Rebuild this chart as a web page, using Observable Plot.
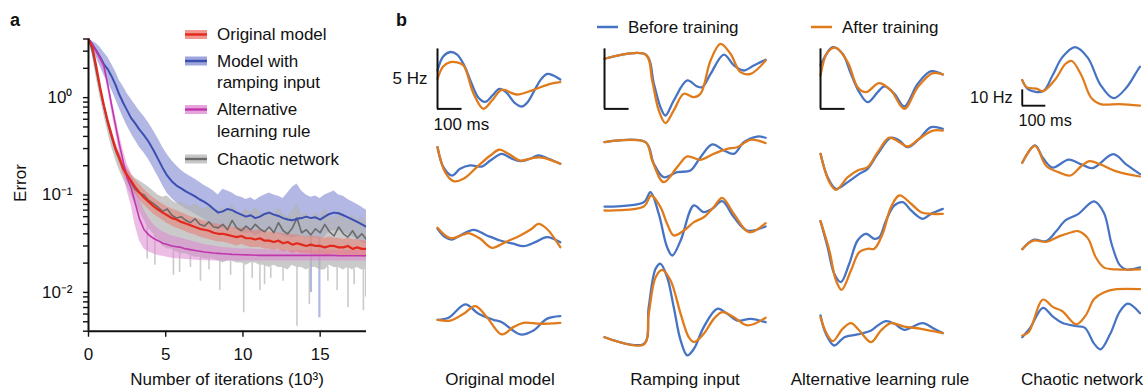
<!DOCTYPE html>
<html>
<head>
<meta charset="utf-8">
<script src="https://cdn.jsdelivr.net/npm/d3@7"></script>
<script src="https://cdn.jsdelivr.net/npm/@observablehq/plot@0.6"></script>
<style>
  body { margin: 0; background: #fff; }
  #fig { position: relative; width: 1145px; height: 392px; overflow: hidden; background: #fff;
         font-family: "Liberation Sans", Arial, Helvetica, sans-serif; }
  .cell { position: absolute; }
  #overlay { position: absolute; left: 0; top: 0; pointer-events: none; }
</style>
</head>
<body>
<div id="fig"></div>
<script>
// ---------- Panel a: training error (log scale) ----------
const iters = [0,0.25,0.5,0.75,1,1.25,1.5,1.75,2,2.25,2.5,2.75,
  3,3.3,3.6,3.9,4.2,4.5,4.8,5.1,5.4,5.7,6,6.3,6.6,6.9,7.2,7.5,7.8,8.1,8.4,8.7,9,9.3,9.6,9.9,
  10.2,10.5,10.8,11.1,11.4,11.7,12,12.3,12.6,12.9,13.2,13.5,13.8,14.1,14.4,14.7,15,15.3,15.6,15.9,
  16.2,16.5,16.8,17.1,17.4,17.7,18];

// Original model (mean, lower, upper)
const originalErr = [4.0,3.3,2.1,1.28,0.83,0.57,0.41,0.3,0.24,0.185,0.16,0.14,
  0.122,0.106,0.094,0.085,0.077,0.071,0.066,0.062,0.058,0.056,0.053,0.051,0.049,0.047,0.045,0.044,0.043,0.041,0.040,0.040,
  0.039,0.038,0.037,0.038,0.036,0.036,0.035,0.036,0.034,0.034,0.033,0.034,0.032,0.033,0.031,0.032,0.031,0.030,0.031,0.030,
  0.030,0.029,0.030,0.030,0.029,0.029,0.030,0.028,0.029,0.028,0.028];
const originalLo = [4.0,3.1,1.9,1.17,0.75,0.51,0.37,0.27,0.215,0.165,0.14,0.122,
  0.104,0.09,0.079,0.071,0.064,0.059,0.055,0.051,0.048,0.046,0.044,0.042,0.040,0.039,0.037,0.036,0.035,0.034,0.033,0.033,
  0.032,0.031,0.030,0.031,0.030,0.029,0.029,0.029,0.028,0.028,0.027,0.028,0.026,0.027,0.025,0.026,0.025,0.025,0.025,0.024,
  0.025,0.024,0.024,0.025,0.024,0.024,0.024,0.023,0.024,0.023,0.023];
const originalHi = [4.0,3.5,2.3,1.42,0.93,0.64,0.47,0.35,0.275,0.215,0.185,0.162,
  0.145,0.128,0.114,0.103,0.094,0.087,0.081,0.076,0.072,0.069,0.066,0.063,0.060,0.058,0.056,0.054,0.053,0.051,0.050,0.049,
  0.048,0.047,0.046,0.046,0.045,0.044,0.043,0.044,0.042,0.042,0.041,0.041,0.040,0.040,0.039,0.039,0.038,0.037,0.038,0.037,
  0.037,0.036,0.037,0.036,0.036,0.035,0.036,0.035,0.035,0.034,0.034];

// Model with ramping input
const rampErr = [4.0,3.5,3.05,2.6,2.2,1.95,1.65,1.35,1.07,0.88,0.74,0.62,
  0.55,0.47,0.41,0.35,0.29,0.235,0.19,0.158,0.138,0.125,0.117,0.109,0.103,0.097,0.09,0.085,0.079,0.072,0.066,0.068,
  0.072,0.07,0.066,0.063,0.06,0.062,0.058,0.06,0.064,0.066,0.063,0.061,0.058,0.056,0.055,0.057,0.058,0.06,0.058,0.059,
  0.056,0.06,0.064,0.066,0.065,0.062,0.059,0.056,0.053,0.05,0.047];
const rampLo = [4.0,3.2,2.6,2.1,1.7,1.45,1.2,0.97,0.77,0.62,0.51,0.43,
  0.37,0.31,0.27,0.23,0.19,0.155,0.125,0.104,0.092,0.083,0.077,0.072,0.068,0.064,0.06,0.056,0.052,0.048,0.045,0.046,
  0.048,0.047,0.044,0.042,0.04,0.041,0.038,0.04,0.042,0.044,0.042,0.04,0.038,0.037,0.036,0.037,0.038,0.036,0.037,0.036,
  0.036,0.037,0.042,0.043,0.043,0.041,0.039,0.037,0.035,0.033,0.031];
const rampHi = [4.0,3.8,3.6,3.3,2.9,2.6,2.2,1.85,1.5,1.3,1.1,0.97,
  0.85,0.73,0.64,0.55,0.46,0.38,0.31,0.26,0.225,0.2,0.18,0.165,0.155,0.145,0.135,0.125,0.118,0.11,0.1,0.115,
  0.11,0.105,0.098,0.095,0.09,0.094,0.088,0.095,0.1,0.105,0.1,0.097,0.092,0.105,0.12,0.13,0.11,0.1,0.095,0.098,
  0.092,0.1,0.105,0.11,0.1,0.097,0.09,0.085,0.08,0.075,0.07];
// narrow downward excursions of the lower envelope: [iterations, error]
const rampDips = [[14.4,0.01],[14.95,0.0055]];

// Alternative learning rule
const altErr = [4.0,3.5,3.0,2.55,2.1,1.35,0.83,0.52,0.33,0.22,0.15,0.12,
  0.085,0.057,0.044,0.039,0.036,0.034,0.032,0.031,0.030,0.0295,0.029,0.028,0.0275,0.027,0.0265,0.026,0.0257,0.0254,0.0252,0.025,
  0.0248,0.0246,0.0245,0.0244,0.0243,0.0242,0.0241,0.024,0.024,0.024,0.024,0.024,0.024,0.024,0.024,0.024,0.024,0.024,0.024,0.024,
  0.024,0.024,0.024,0.024,0.0238,0.0238,0.0238,0.0238,0.0238,0.0238,0.0238];
const altLo = [4.0,3.3,2.8,2.3,1.85,1.2,0.72,0.44,0.27,0.17,0.11,0.08,
  0.05,0.034,0.028,0.026,0.025,0.024,0.0235,0.023,0.0225,0.0222,0.022,0.0218,0.0216,0.0214,0.0213,0.0212,0.0211,0.021,0.021,0.021,
  0.021,0.021,0.021,0.021,0.021,0.021,0.021,0.021,0.021,0.021,0.021,0.021,0.021,0.021,0.021,0.021,0.021,0.021,0.021,0.021,
  0.021,0.021,0.021,0.021,0.021,0.021,0.021,0.021,0.021,0.021,0.021];
const altHi = [4.0,3.7,3.2,2.8,2.35,1.55,1.0,0.64,0.42,0.29,0.21,0.17,
  0.13,0.095,0.07,0.058,0.05,0.045,0.042,0.04,0.038,0.037,0.036,0.035,0.034,0.033,0.032,0.031,0.0305,0.030,0.0295,0.029,
  0.0288,0.0285,0.0283,0.028,0.028,0.028,0.0278,0.0276,0.0275,0.0274,0.0273,0.0272,0.0271,0.027,0.027,0.027,0.027,0.027,0.027,0.027,
  0.027,0.027,0.027,0.027,0.027,0.027,0.027,0.027,0.027,0.027,0.027];

// Chaotic network
const chaoticErr = [4.0,3.0,1.9,1.2,0.8,0.54,0.39,0.29,0.23,0.19,0.16,0.135,
  0.115,0.105,0.1,0.088,0.082,0.075,0.068,0.072,0.062,0.058,0.06,0.055,0.052,0.057,0.05,0.048,0.053,0.047,0.046,0.05,
  0.044,0.055,0.046,0.043,0.048,0.044,0.05,0.045,0.042,0.047,0.041,0.052,0.043,0.04,0.046,0.058,0.041,0.044,0.039,0.045,
  0.041,0.05,0.042,0.038,0.047,0.04,0.037,0.043,0.036,0.04,0.035];
const chaoticLo = [4.0,2.7,1.6,1.0,0.66,0.44,0.31,0.23,0.18,0.145,0.12,0.1,
  0.082,0.068,0.055,0.045,0.04,0.035,0.03,0.028,0.028,0.026,0.025,0.025,0.024,0.023,0.023,0.022,0.022,0.022,0.021,0.02,
  0.021,0.021,0.02,0.02,0.019,0.02,0.02,0.019,0.019,0.018,0.019,0.018,0.018,0.017,0.019,0.018,0.018,0.017,0.018,0.018,
  0.017,0.017,0.019,0.018,0.018,0.017,0.018,0.017,0.018,0.017,0.017];
const chaoticHi = [4.0,3.3,2.1,1.35,0.88,0.6,0.44,0.33,0.27,0.22,0.19,0.165,
  0.15,0.14,0.13,0.12,0.11,0.1,0.095,0.098,0.088,0.082,0.085,0.08,0.076,0.082,0.075,0.072,0.078,0.07,0.068,0.075,
  0.066,0.08,0.068,0.064,0.072,0.066,0.074,0.067,0.063,0.07,0.062,0.076,0.064,0.06,0.068,0.082,0.061,0.065,0.058,0.066,
  0.061,0.072,0.062,0.057,0.069,0.059,0.055,0.063,0.054,0.059,0.052];
const chaoticDips = [[3.8,0.022],[4.3,0.019],[5.5,0.015],[5.9,0.016],[6.6,0.018],[7.25,0.013],[7.8,0.017],
  [8.5,0.0105],[9.2,0.015],[10.05,0.0062],[10.6,0.014],[11.1,0.0105],[11.4,0.012],[11.8,0.014],[12.6,0.013],
  [13.5,0.0045],[14.3,0.0075],[15.5,0.013],[16.1,0.0105],[16.8,0.007],[17.2,0.012],[17.8,0.0065],[17.95,0.009]];

const errorTicks = [0.004,0.005,0.006,0.007,0.008,0.009,0.01,0.02,0.03,0.04,0.05,0.06,0.07,0.08,0.09,
  0.1,0.2,0.3,0.4,0.5,0.6,0.7,0.8,0.9,1,2,3,4];
const errorTickLabels = {0.01: "10\u207B\u00B2", 0.1: "10\u207B\u00B9", 1: "10\u2070"};
const iterTicks = [0, 5, 10, 15];

const seriesNames = ["Original model", "Model with\nramping input", "Alternative\nlearning rule", "Chaotic network"];

// ---------- Panel b: example rates, [time (ms), rate (Hz)] ----------
const originalBefore = [
  [[0,5.0],[23,6.17],[52,6.54],[80,6.33],[109,5.42],[137,4.0],[166,2.75],[194,2.38],[224,2.92],[252,3.46],[280,3.17],[313,2.33],[344,2.0],[369,2.42],[399,3.5],[424,4.33],[447,4.71],[472,4.58],[500,4.25]],
  [[0,4.44],[24,2.78],[59,2.08],[92,2.64],[133,2.92],[181,2.83],[215,3.33],[262,3.89],[303,3.48],[337,3.28],[377,3.48],[411,3.75],[452,3.48],[500,3.06]],
  [[0,5.98],[31,5.28],[59,5.08],[92,5.42],[147,5.89],[201,5.42],[255,5.0],[309,4.73],[350,4.53],[398,4.86],[445,5.28],[500,4.86]],
  [[0,3.39],[45,3.56],[113,4.67],[167,3.89],[228,3.39],[262,3.19],[337,2.17],[391,2.5],[445,3.47],[500,3.69]]
];
const originalAfter = [
  [[0,4.31],[23,5.33],[52,5.69],[80,5.67],[106,5.42],[147,3.06],[187,1.81],[222,2.5],[262,3.39],[323,3.0],[391,3.39],[459,3.89],[500,4.03]],
  [[0,4.44],[31,2.36],[65,1.61],[106,1.81],[160,2.78],[215,3.75],[252,4.23],[289,3.89],[337,3.33],[391,3.56],[432,3.56],[472,3.28],[500,3.06]],
  [[0,6.06],[52,5.19],[106,5.5],[126,5.61],[174,5.14],[222,4.39],[276,4.86],[337,5.42],[384,5.98],[411,6.39],[445,5.98],[500,4.44]],
  [[0,3.39],[52,3.33],[106,3.89],[154,4.53],[201,3.61],[262,2.17],[309,2.78],[350,3.14],[418,3.06],[500,3.14]]
];
const rampBefore = [
  [[0,5.98],[167,6.33],[201,3.89],[228,1.94],[248,1.25],[282,2.5],[337,4.17],[377,3.67],[398,3.61],[432,4.72],[486,6.33],[527,5.42],[567,5.0],[608,5.42],[656,5.89]],
  [[0,4.86],[167,4.86],[201,3.06],[241,1.94],[296,2.36],[350,2.5],[391,3.61],[439,4.67],[486,4.17],[527,3.89],[567,4.86],[622,5.33],[656,5.23]],
  [[0,7.83],[160,8.19],[187,9.03],[221,7.22],[255,4.44],[276,3.75],[310,5.0],[364,7.92],[404,7.36],[439,7.64],[479,8.28],[527,6.94],[581,5.83],[656,6.17]],
  [[0,1.94],[160,1.39],[180,4.44],[208,7.64],[228,8.06],[255,6.94],[282,4.44],[310,1.67],[337,0.42],[364,0.97],[404,2.78],[459,4.31],[500,3.89],[540,3.33],[595,3.47],[656,3.19]]
];
const rampAfter = [
  [[0,5.98],[167,6.33],[194,4.17],[221,1.67],[248,0.61],[282,1.67],[323,3.06],[364,2.78],[391,3.06],[432,5.83],[472,7.22],[513,6.39],[554,4.86],[595,4.72],[656,5.83]],
  [[0,4.86],[167,4.86],[194,3.33],[241,1.53],[296,2.78],[337,3.67],[391,3.39],[445,3.89],[500,4.31],[540,4.44],[595,5.06],[656,4.78]],
  [[0,7.5],[160,7.83],[190,8.75],[228,7.78],[255,6.39],[282,5.42],[323,5.83],[364,6.53],[404,6.94],[445,7.78],[479,8.56],[527,7.22],[588,5.69],[656,6.44]],
  [[0,1.94],[160,1.33],[180,3.89],[208,6.94],[235,7.56],[269,6.67],[310,3.89],[343,1.94],[364,1.53],[404,2.22],[445,3.47],[479,4.03],[527,3.61],[581,2.92],[656,3.56]]
];
const altBefore = [
  [[0,5.42],[50,6.94],[90,6.39],[124,4.72],[158,3.19],[192,2.36],[233,3.19],[260,3.67],[301,3.06],[341,2.0],[396,3.89],[450,4.94],[498,4.67]],
  [[0,3.89],[29,1.94],[63,0.97],[111,1.53],[158,2.22],[192,2.64],[233,3.89],[287,5.23],[321,5.0],[355,4.44],[402,5.14],[450,6.11],[498,5.97]],
  [[0,6.61],[29,4.44],[56,2.22],[83,1.53],[117,3.06],[151,5.0],[185,5.56],[219,5.14],[240,5.28],[267,6.67],[301,7.92],[335,8.19],[369,7.5],[416,6.81],[450,7.22],[498,7.64]],
  [[0,3.75],[22,2.22],[56,1.25],[97,1.94],[151,2.17],[206,2.5],[233,2.92],[267,3.28],[301,3.06],[341,2.56],[416,3.11],[463,2.64],[498,2.28]]
];
const altAfter = [
  [[0,4.58],[29,6.53],[63,6.89],[111,5.69],[151,3.61],[185,3.19],[239,3.94],[287,3.33],[341,1.81],[396,3.61],[457,4.78],[498,4.67]],
  [[0,3.89],[36,1.53],[63,0.89],[111,1.94],[151,2.5],[192,2.78],[233,4.03],[280,5.23],[321,4.86],[355,4.5],[402,5.14],[457,5.83],[498,5.83]],
  [[0,6.61],[36,4.17],[63,1.67],[86,0.89],[124,2.5],[158,4.03],[192,4.31],[219,4.31],[253,5.56],[287,7.78],[321,8.75],[369,8.06],[409,7.36],[450,7.22],[498,7.22]],
  [[0,3.61],[22,2.36],[50,1.61],[90,2.64],[124,3.11],[158,2.5],[206,1.53],[246,2.5],[287,3.11],[341,2.83],[409,2.64],[498,2.28]]
];
const chaoticBefore = [
  [[0,29.1],[27,23.1],[88,22.1],[129,32.1],[169,43.2],[224,49.8],[278,43.2],[332,26.1],[387,17.7],[441,24.1],[489,35.1],[500,37.5]],
  [[0,21.1],[54,32.1],[88,24.1],[129,18.1],[197,23.1],[251,20.1],[298,17.7],[387,26.5],[441,20.1],[500,14.0]],
  [[0,29.1],[47,35.1],[102,34.2],[143,40.2],[183,47.2],[237,51.2],[305,59.2],[346,52.2],[380,32.1],[414,19.1],[441,16.4],[500,17.7]],
  [[0,12.0],[34,18.1],[88,30.5],[129,25.1],[169,21.1],[224,19.1],[265,18.1],[305,8.0],[332,4.4],[373,14.0],[414,28.1],[448,33.1],[500,27.1]]
];
const chaoticAfter = [
  [[0,29.1],[20,24.5],[61,23.7],[88,22.1],[143,30.1],[183,39.2],[210,41.1],[251,32.1],[292,18.1],[332,14.0],[414,14.0],[500,13.1]],
  [[0,21.1],[54,31.7],[102,19.1],[156,15.1],[204,13.1],[251,19.1],[285,22.1],[332,20.1],[400,15.7],[500,12.5]],
  [[0,29.1],[47,34.5],[102,33.7],[156,37.2],[210,39.8],[237,40.5],[278,36.1],[312,24.1],[346,17.7],[400,16.4],[500,16.4]],
  [[0,13.1],[27,15.1],[88,35.7],[129,31.1],[169,28.5],[230,20.1],[271,26.1],[305,36.1],[346,40.2],[400,42.2],[500,42.2]]
];
const columnTitles = ["Original model", "Ramping input", "Alternative learning rule", "Chaotic network"];
const trainingLabels = ["Before training", "After training"];

// ---------- styling ----------
const FONT = '"Liberation Sans", Arial, Helvetica, sans-serif';
const INK = "#111";
const C = {
  original: {line: "#e3281d", band: "#ec7468"},
  ramp:     {line: "#3b4fb2", band: "#7f88d0"},
  alt:      {line: "#c236ad", band: "#dc86cf"},
  chaotic:  {line: "#6b6b6b", band: "#b4b4b4"}
};
const BEFORE = "#4673c4", AFTER = "#e07b1c";

const fig = document.getElementById("fig");

[["originalErr",originalErr],["originalLo",originalLo],["originalHi",originalHi],
 ["rampErr",rampErr],["rampLo",rampLo],["rampHi",rampHi],
 ["altErr",altErr],["altLo",altLo],["altHi",altHi],
 ["chaoticErr",chaoticErr],["chaoticLo",chaoticLo],["chaoticHi",chaoticHi]].forEach(([n, a]) => {
  if (a.length !== iters.length) throw new Error(n + " has " + a.length + " values, expected " + iters.length);
});

const rows = (mean, lo, hi) => iters.map((x, i) => ({x, mean: mean[i], lo: lo[i], hi: hi[i]}));
const sOrig = rows(originalErr, originalLo, originalHi);
const sRamp = rows(rampErr, rampLo, rampHi);
const sAlt = rows(altErr, altLo, altHi);
const sChaos = rows(chaoticErr, chaoticLo, chaoticHi);

// lower envelope value at an arbitrary iteration count (for attaching the dips to the band)
const loAt = (lo, x) => {
  const i = Math.max(1, d3.bisectLeft(iters, x));
  const t = (x - iters[i - 1]) / (iters[i] - iters[i - 1]);
  return lo[i - 1] + t * (lo[i] - lo[i - 1]);
};
const dipRules = (dips, lo, col, op, w) => Plot.ruleX(dips, {
  x: d => d[0], y1: d => d[1], y2: d => loAt(lo, d[0]),
  stroke: col.band, strokeOpacity: op, strokeWidth: w, clip: true
});

const band = (data, col, op) => Plot.areaY(data, {x: "x", y1: "lo", y2: "hi", fill: col.band, fillOpacity: op, clip: true});
const meanLine = (data, col, w) => Plot.lineY(data, {x: "x", y: "mean", stroke: col.line, strokeWidth: w, clip: true});

const panelA = Plot.plot({
  width: 375, height: 392,
  marginLeft: 88, marginRight: 9, marginTop: 38.5, marginBottom: 61.3,
  style: {fontFamily: FONT, fontSize: "17px", color: INK, background: "transparent", overflow: "visible"},
  x: {domain: [0, 18]},
  y: {type: "log", domain: [0.004, 4]},
  marks: [
    band(sRamp, C.ramp, 0.6),
    dipRules(rampDips, rampLo, C.ramp, 0.6, 2.2),
    band(sChaos, C.chaotic, 0.7),
    dipRules(chaoticDips, chaoticLo, C.chaotic, 0.7, 1.6),
    band(sAlt, C.alt, 0.55),
    band(sOrig, C.original, 0.5),
    meanLine(sChaos, C.chaotic, 1.6),
    meanLine(sRamp, C.ramp, 2),
    meanLine(sAlt, C.alt, 1.6),
    meanLine(sOrig, C.original, 2.2),
    Plot.axisY(errorTicks, {tickSize: 5, tickPadding: 11, strokeWidth: 1.4,
      tickFormat: d => errorTickLabels[d] ?? "", label: null}),
    Plot.axisX(iterTicks, {tickSize: 6, tickPadding: 11, strokeWidth: 1.4, label: null}),
    Plot.ruleX([0], {stroke: INK, strokeWidth: 2}),
    Plot.ruleY([0.004], {stroke: INK, strokeWidth: 2})
  ]
});
const wrapA = document.createElement("div");
wrapA.className = "cell";
wrapA.style.left = "0px"; wrapA.style.top = "0px";
wrapA.appendChild(panelA);
fig.appendChild(wrapA);

// ---------- Panel b: grid of rate traces ----------
const MS_PX = 0.2456;             // horizontal pixels per millisecond
const PAD = 6;
const rowBoxes = [{top: 30, h: 100}, {top: 100, h: 100}, {top: 180, h: 120}, {top: 260, h: 100}];
const columns = [
  {before: originalBefore, after: originalAfter, x0: 437.3, T: 500, hzPx: 12,   bar: {base: 1.8, hz: 5,  label: "5 Hz"}},
  {before: rampBefore,     after: rampAfter,     x0: 604,   T: 656, hzPx: 12,   bar: {base: 1.8, hz: 5}},
  {before: altBefore,      after: altAfter,      x0: 819.5, T: 500, hzPx: 12,   bar: {base: 1.8, hz: 5}},
  {before: chaoticBefore,  after: chaoticAfter,  x0: 1021.7, T: 500, hzPx: 1.66, bar: {base: 13,  hz: 10, label: "10 Hz"}}
];

columns.forEach(col => {
  rowBoxes.forEach((box, r) => {
    const marks = [
      Plot.line(col.before[r], {x: d => d[0], y: d => d[1], stroke: BEFORE, strokeWidth: 2.3, curve: "catmull-rom"}),
      Plot.line(col.after[r],  {x: d => d[0], y: d => d[1], stroke: AFTER,  strokeWidth: 2.3, curve: "catmull-rom"})
    ];
    if (r === 0) {
      const b = col.bar;
      marks.push(
        Plot.ruleX([0], {y1: b.base, y2: b.base + b.hz, stroke: INK, strokeWidth: 2}),
        Plot.ruleY([b.base], {x1: -0.5, x2: 100, stroke: INK, strokeWidth: 2})
      );
      if (b.label) {
        marks.push(
          Plot.text([b.label], {x: 0, y: b.base + b.hz / 2, dx: -10, textAnchor: "end", fontSize: 17, fill: INK}),
          Plot.text(["100 ms"], {x: 0, y: b.base, dx: -4, dy: 16, textAnchor: "start", fontSize: 17, fill: INK})
        );
      }
    }
    const p = Plot.plot({
      width: col.T * MS_PX + 2 * PAD, height: box.h,
      marginLeft: PAD, marginRight: PAD, marginTop: 0, marginBottom: 0,
      style: {fontFamily: FONT, fontSize: "17px", color: INK, background: "transparent", overflow: "visible"},
      x: {domain: [0, col.T], axis: null},
      y: {domain: [0, box.h / col.hzPx], axis: null},
      marks
    });
    const w = document.createElement("div");
    w.className = "cell";
    w.style.left = (col.x0 - PAD) + "px";
    w.style.top = box.top + "px";
    w.appendChild(p);
    fig.appendChild(w);
  });
});

// ---------- labels, legends, titles ----------
const svg = d3.select(fig).append("svg").attr("id", "overlay")
  .attr("width", 1145).attr("height", 392)
  .style("font-family", FONT).style("font-size", "17px").style("fill", INK);

svg.append("text").attr("x", 10).attr("y", 26).style("font-weight", "bold").style("font-size", "18px").text("a");
svg.append("text").attr("x", 396).attr("y", 26).style("font-weight", "bold").style("font-size", "18px").text("b");

svg.append("text").attr("transform", "translate(26,183) rotate(-90)").attr("text-anchor", "middle").text("Error");
svg.append("text").attr("x", 227).attr("y", 379).attr("text-anchor", "middle").attr("dominant-baseline", "central")
  .text("Number of iterations (10\u00B3)");

// legend for panel a
const legendA = [
  {col: C.original, y: 34.5, lines: seriesNames[0].split("\n")},
  {col: C.ramp, y: 61, lines: seriesNames[1].split("\n")},
  {col: C.alt, y: 109.5, lines: seriesNames[2].split("\n")},
  {col: C.chaotic, y: 159, lines: seriesNames[3].split("\n")}
];
legendA.forEach(item => {
  svg.append("rect").attr("x", 185).attr("y", item.y - 4.5).attr("width", 22).attr("height", 9)
    .attr("fill", item.col.band).attr("fill-opacity", 0.75);
  svg.append("line").attr("x1", 185).attr("x2", 207).attr("y1", item.y).attr("y2", item.y)
    .attr("stroke", item.col.line).attr("stroke-width", 2.4);
  item.lines.forEach((t, k) => {
    svg.append("text").attr("x", 217).attr("y", item.y + k * 21.5).attr("dominant-baseline", "central").text(t);
  });
});

// legend for panel b
[{x: 597, color: BEFORE, label: trainingLabels[0]}, {x: 811, color: AFTER, label: trainingLabels[1]}].forEach(item => {
  svg.append("line").attr("x1", item.x).attr("x2", item.x + 21).attr("y1", 27).attr("y2", 27)
    .attr("stroke", item.color).attr("stroke-width", 2.5);
  svg.append("text").attr("x", item.x + 31).attr("y", 27).attr("dominant-baseline", "central").text(item.label);
});

// column titles
[500, 685, 880, 1082].forEach((cx, i) => {
  svg.append("text").attr("x", cx).attr("y", 379).attr("text-anchor", "middle").attr("dominant-baseline", "central")
    .text(columnTitles[i]);
});
</script>
</body>
</html>
